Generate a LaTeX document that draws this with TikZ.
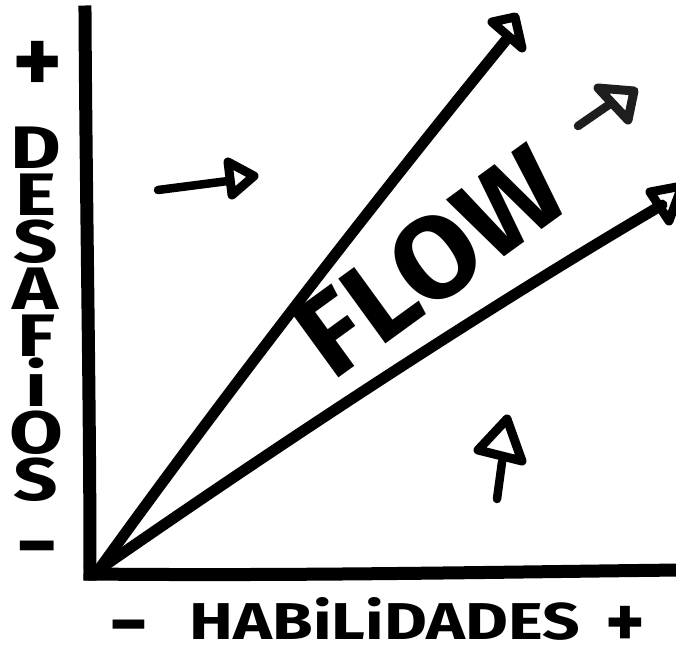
\documentclass[tikz,border=0pt]{standalone}
\usepackage{fontspec}
\setmainfont{Fira Sans}
\newfontfamily\widefont[FakeStretch=1.3]{Fira Sans}
\definecolor{ink}{HTML}{000000}
\definecolor{inkgrey}{HTML}{1E1E1E}
\tikzset{
  axisline/.style={line width=13pt, draw=ink, line cap=rect},
  mainarrow/.style={line width=11pt, draw=ink, line cap=round},
  headtri/.style={line width=9pt, draw=ink, line join=round},
  smallarrow/.style={line width=8.5pt, draw=ink, line cap=round},
  lbl/.style={inner sep=0pt, text=ink, font=\bfseries},
  sign/.style={inner sep=0pt, text=ink, anchor=base}
}
\begin{document}
\begin{tikzpicture}[x=1pt,y=-1pt]
\useasboundingbox[fill=white] (0,0) rectangle (676,651);
% coordinates
\coordinate (ytop) at (85,12);
\coordinate (O) at (90,574);
\coordinate (xend) at (680,570);
\coordinate (o1) at (100,568);
\coordinate (o2) at (104,566);
\coordinate (e1) at (506,40);
\coordinate (e2) at (662,205);
% axes
\draw[axisline] (ytop) .. controls (86,200) and (90,400) .. (O);
\draw[axisline] (O) .. controls (300,576) and (500,572) .. (xend);
% main arrows
\draw[mainarrow] (o1) .. controls (250,360) and (400,170) .. (e1);
\draw[mainarrow] (o2) .. controls (300,430) and (500,300) .. (e2);
\draw[headtri] (492,22) -- (515,17) -- (522,48) -- cycle;
\draw[headtri] (650,192) -- (682,186) -- (669,221) -- cycle;
% small arrow left
\coordinate (s1a) at (158,190);
\coordinate (s1b) at (228,181);
\draw[smallarrow] (s1a) -- (s1b);
\draw[headtri] (228,162) -- (254,176) -- (232,195) -- cycle;
% small arrow top right
\coordinate (s2a) at (578,126);
\coordinate (s2b) at (610,104);
\draw[smallarrow, draw=inkgrey] (s2a) -- (s2b);
\draw[headtri, draw=inkgrey] (598,88) -- (634,91) -- (628,120) -- cycle;
% small arrow bottom
\coordinate (s3a) at (497,499);
\coordinate (s3b) at (502,462);
\draw[smallarrow] (s3a) -- (s3b);
\draw[headtri] (507,419) -- (478,450) -- (522,461) -- cycle;
% labels
\node[sign, font=\fontsize{95}{95}\selectfont\bfseries] (yplus) at (38,93) {+};
\node[sign, font=\fontsize{80}{80}\selectfont\bfseries] (yminus) at (37,572) {−};
\node[lbl, anchor=north, align=center, font=\widefont\fontsize{60}{47}\selectfont\bfseries] (ylabel) at (36,127) {D\\E\\S\\A\\F\\i\\O\\S};
\node[sign, font=\fontsize{75}{75}\selectfont\bfseries] (xminus) at (129,649) {−};
\node[lbl] (xlabel) at (385,619) {\resizebox{390pt}{42pt}{\bfseries HABiLiDADES}};
\node[sign, font=\fontsize{75}{75}\selectfont\bfseries] (xplus) at (625,647) {+};
\node[lbl, rotate=36] (flow) at (430,262) {\resizebox{300pt}{82pt}{\bfseries FLOW}};
\end{tikzpicture}
\end{document}
